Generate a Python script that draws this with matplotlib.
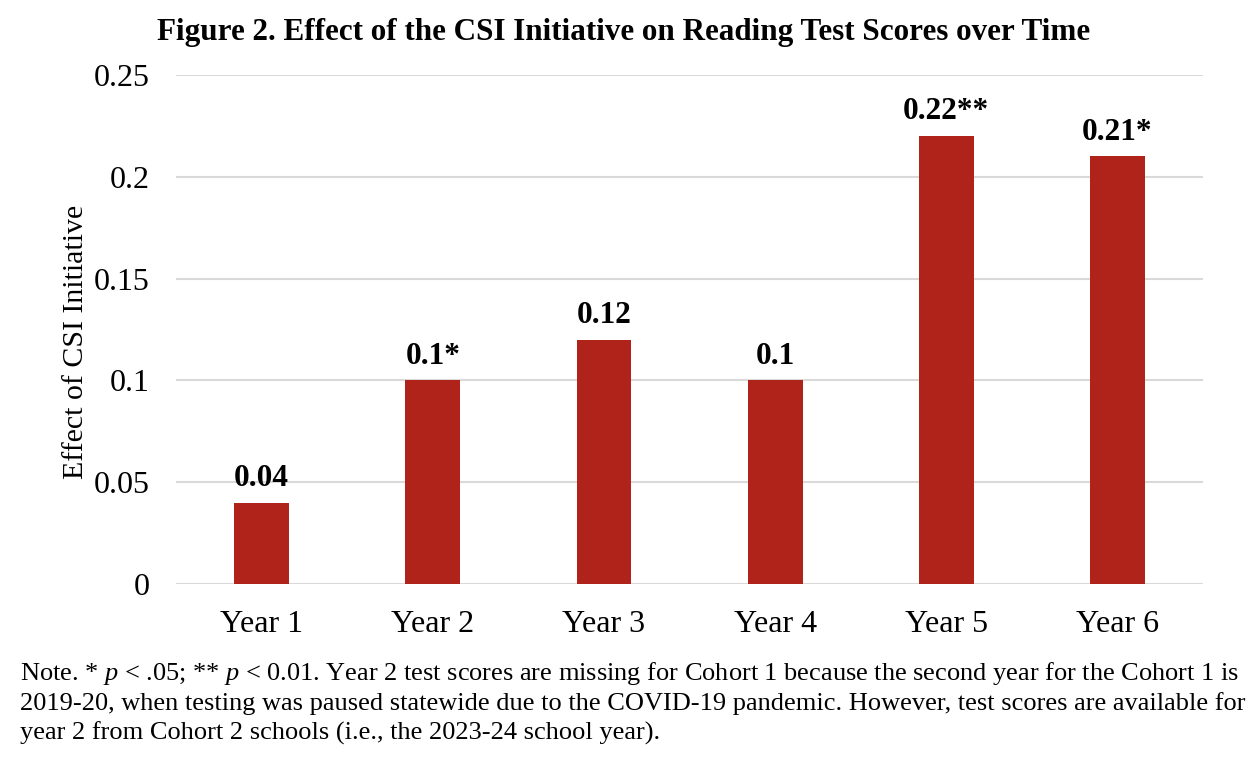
import numpy as np
import matplotlib.pyplot as plt

years = ['Year 1', 'Year 2', 'Year 3', 'Year 4', 'Year 5', 'Year 6']
effects = [0.04, 0.10, 0.12, 0.10, 0.22, 0.21]
labels = ['0.04', '0.1*', '0.12', '0.1', '0.22**', '0.21*']
yticks = [0, 0.05, 0.1, 0.15, 0.2, 0.25]
ytick_labels = ['0', '0.05', '0.1', '0.15', '0.2', '0.25']

note_lines = [
    "Note. * $\\it{p}$ < .05; ** $\\it{p}$ < 0.01. Year 2 test scores are missing for Cohort 1 "
    "because the second year for the Cohort 1 is",
    "2019-20, when testing was paused statewide due to the COVID-19 pandemic. "
    "However, test scores are available for",
    "year 2 from Cohort 2 schools (i.e., the 2023-24 school year).",
]

plt.rcParams['font.family'] = ['Liberation Serif', 'DejaVu Serif']
plt.rcParams['mathtext.fontset'] = 'custom'
plt.rcParams['mathtext.it'] = 'Liberation Serif:italic'
plt.rcParams['mathtext.rm'] = 'Liberation Serif'

fig = plt.figure(figsize=(12.48, 7.62), dpi=100)
ax = fig.add_axes([0.141, 0.2336, 0.823, 0.668])

x = np.arange(len(years))
bars = ax.bar(x, effects, width=0.32, color='#B0231A', zorder=3)
for xi, v, lab in zip(x, effects, labels):
    ax.annotate(lab, (xi, v), xytext=(0, 12), textcoords='offset points',
                ha='center', va='baseline', fontsize=22.5, fontweight='bold', zorder=4)

ax.set_xlim(-0.5, 5.5)
ax.set_ylim(0, 0.25)
ax.set_yticks(yticks)
ax.set_yticklabels(ytick_labels)
ax.set_xticks(x)
ax.set_xticklabels(years)
ax.tick_params(axis='both', length=0, labelsize=23)
ax.tick_params(axis='y', pad=19)
ax.tick_params(axis='x', pad=19)
ax.grid(axis='y', color='#d9d9d9', linewidth=1.5, zorder=0)
ax.set_axisbelow(True)
for s in ax.spines.values():
    s.set_visible(False)
ax.set_ylabel('Effect of CSI Initiative', fontsize=21.5, labelpad=3)
ax.yaxis.label.set_y(0.476)

fig.text(0.5, 0.957, 'Figure 2. Effect of the CSI Initiative on Reading Test Scores over Time',
         ha='center', va='center', fontsize=22.4, fontweight='bold')
for i, line in enumerate(note_lines):
    fig.text(0.016, 1 - (680 + 30 * i) / 762, line, ha='left', va='baseline', fontsize=19)

fig.savefig('out.png', dpi=100)
